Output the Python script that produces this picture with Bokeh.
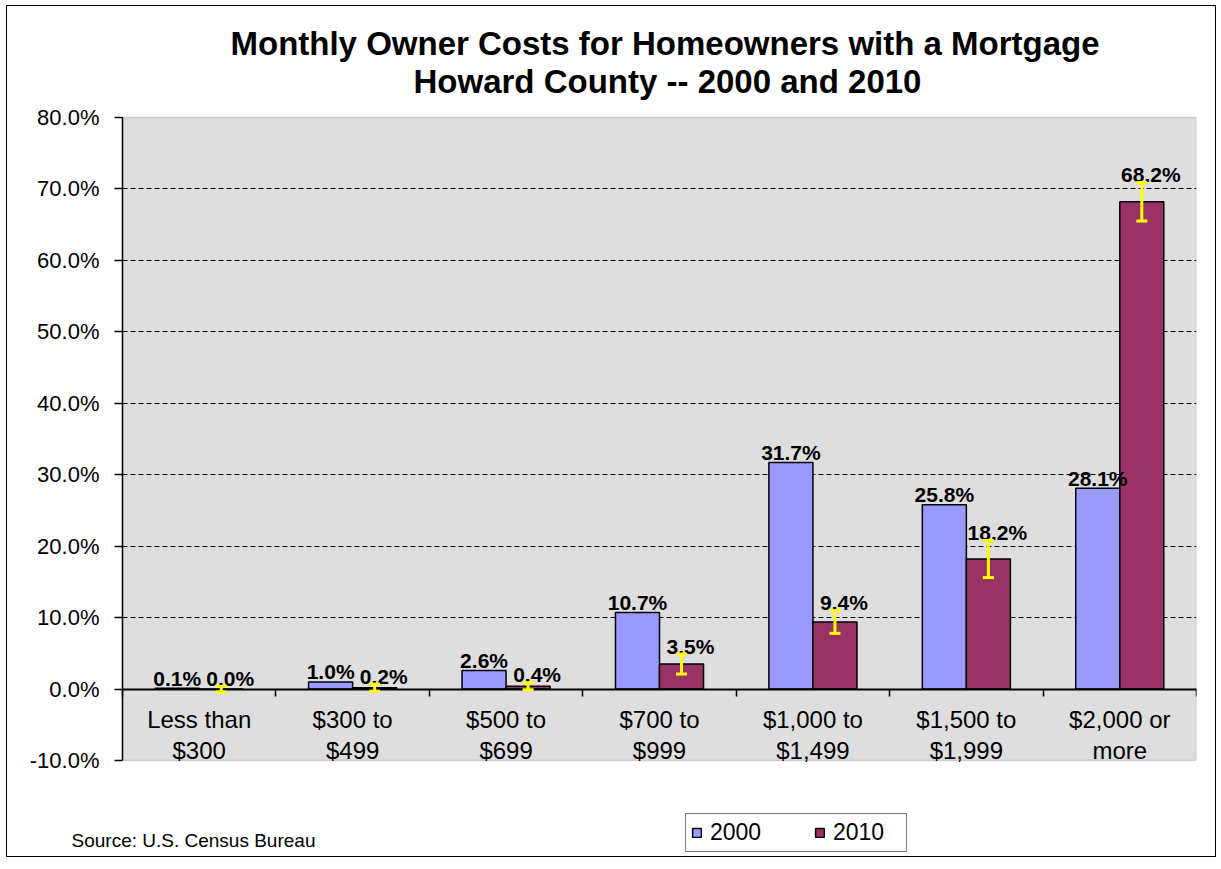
import numpy as np
from bokeh.plotting import figure
from bokeh.models import (ColumnDataSource, Range1d, FixedTicker, PrintfTickFormatter,
                          Whisker, TeeHead, Legend, LegendItem, Label, Title, BoxAnnotation)
from bokeh.core.properties import value
from bokeh.embed import file_html
from bokeh.resources import INLINE

# ---- data ----
categories = ["Less than\n$300", "$300 to\n$499", "$500 to\n$699", "$700 to\n$999",
              "$1,000 to\n$1,499", "$1,500 to\n$1,999", "$2,000 or\nmore"]
pct_2000 = [0.1, 1.0, 2.6, 10.7, 31.7, 25.8, 28.1]
pct_2010 = [0.0, 0.2, 0.4, 3.5, 9.4, 18.2, 68.2]
moe_2010 = [0.4, 0.5, 0.5, 1.4, 1.6, 2.6, 2.7]
y_ticks = [-10, 0, 10, 20, 30, 40, 50, 60, 70, 80]
series_names = ["2000", "2010"]
title_lines = ["Monthly Owner Costs for Homeowners with a Mortgage",
               "Howard County -- 2000 and 2010"]
source_note = "Source:  U.S. Census Bureau"

FONT = "Liberation Sans"
C2000 = "#9999FF"
C2010 = "#993366"

n = len(categories)
y_min, y_max = y_ticks[0], y_ticks[-1]
centers = np.arange(n) + 0.5
bw = 0.287
x2000 = centers - bw / 2
x2010 = centers + bw / 2
upper = np.array(pct_2010) + np.array(moe_2010)
lower = np.array(pct_2010) - np.array(moe_2010)

src2000 = ColumnDataSource(dict(x=x2000, top=pct_2000,
                                lab=[f"{v:.1f}%" for v in pct_2000]))
src2010 = ColumnDataSource(dict(x=x2010, top=pct_2010, upper=upper, lower=lower,
                                lab=[f"{v:.1f}%" for v in pct_2010]))

# layout geometry (pixels)
W, H = 1210, 852
B_LEFT, B_RIGHT, B_TOP, B_BOTTOM = 4, 21, 96, 4
plot_px_left = 111          # frame left -> value axis
plot_px_top = 15            # frame top -> top of plot area
plot_px_bottom = 94         # frame bottom -> lowest gridline
frame_w = W - B_LEFT - B_RIGHT
frame_h = H - B_TOP - B_BOTTOM
px_per_x = (frame_w - plot_px_left) / n
px_per_y = (frame_h - plot_px_bottom - plot_px_top) / (y_max - y_min)
x_lo = -plot_px_left / px_per_x
y_lo = y_min - plot_px_bottom / px_per_y
y_hi = y_max + plot_px_top / px_per_y

p = figure(width=W, height=H, x_range=Range1d(x_lo, n), y_range=Range1d(y_lo, y_hi),
           output_backend="svg", toolbar_location=None, title=None,
           min_border_left=B_LEFT, min_border_right=B_RIGHT, min_border_top=B_TOP,
           min_border_bottom=B_BOTTOM)
p.styles = {"border": "1px solid black", "margin": "5px 0px 0px 6px"}
p.background_fill_color = "white"
p.border_fill_color = "white"
p.outline_line_color = None

# plot-area background
p.add_layout(BoxAnnotation(left=0, right=n, bottom=y_min, top=y_max,
                           fill_color="#dedede", fill_alpha=1,
                           line_color="#808080", line_width=1.5, level="image"))

# titles (added bottom line first), left aligned with offsets to centre them over the plot area
t2 = Title(text=title_lines[1], text_font=FONT, text_font_size="33px",
           text_font_style="bold", text_color="black", align="left", offset=402, standoff=5)
t1 = Title(text=title_lines[0], text_font=FONT, text_font_size="33px",
           text_font_style="bold", text_color="black", align="left", offset=219, standoff=-7)
p.add_layout(t2, "above")
p.add_layout(t1, "above")

# grid (inner lines only, limited to the plot area)
grid_ticks = y_ticks[1:-1]
p.xgrid.visible = False
g = p.ygrid[0]
if "cross_bounds" in g.properties():
    g.ticker = FixedTicker(ticks=grid_ticks)
    g.cross_bounds = (0, n)
    g.grid_line_color = "black"
    g.grid_line_dash = "5 3"
    g.grid_line_width = 1
else:
    g.visible = False
    gr = p.segment(x0=[0] * len(grid_ticks), x1=[n] * len(grid_ticks), y0=grid_ticks,
                   y1=grid_ticks, line_color="black", line_dash="5 3", line_width=1)
    gr.level = "underlay"

# y axis, fixed at x = 0
p.yaxis.fixed_location = 0
p.yaxis.bounds = (y_min, y_max)
p.yaxis.ticker = FixedTicker(ticks=y_ticks)
p.yaxis.formatter = PrintfTickFormatter(format="%.1f%%")
p.yaxis.axis_line_color = "black"
p.yaxis.axis_line_width = 1.5
p.yaxis.major_tick_line_color = "black"
p.yaxis.major_tick_line_width = 1.5
p.yaxis.major_tick_in = 0
p.yaxis.major_tick_out = 8
p.yaxis.minor_tick_line_color = None
p.yaxis.major_label_text_font = FONT
p.yaxis.major_label_text_font_size = "22px"
p.yaxis.major_label_text_color = "black"
p.yaxis.major_label_standoff = 15

# x axis at zero
p.xaxis.fixed_location = 0
p.xaxis.bounds = (0, n)
p.xaxis.ticker = FixedTicker(ticks=list(centers), minor_ticks=list(range(n + 1)))
p.xaxis.major_label_overrides = {float(c): lab for c, lab in zip(centers, categories)}
p.xaxis.axis_line_color = "black"
p.xaxis.axis_line_width = 2
p.xaxis.major_tick_line_color = None
p.xaxis.major_tick_in = 0
p.xaxis.major_tick_out = 0
p.xaxis.minor_tick_line_color = "black"
p.xaxis.minor_tick_line_width = 1.5
p.xaxis.minor_tick_in = 0
p.xaxis.minor_tick_out = 7
p.xaxis.major_label_text_font = FONT
p.xaxis.major_label_text_font_size = "24px"
p.xaxis.major_label_text_color = "black"
p.xaxis.major_label_text_line_height = 1.15
p.xaxis.major_label_standoff = 10

# bars
r1 = p.vbar(x="x", top="top", bottom=0, width=bw, source=src2000,
            fill_color=C2000, line_color="black", line_width=1.5)
r2 = p.vbar(x="x", top="top", bottom=0, width=bw, source=src2010,
            fill_color=C2010, line_color="black", line_width=1.5)

# error bars
whisk = Whisker(source=src2010, base="x", upper="upper", lower="lower", dimension="height",
                line_color="#FFFF00", line_width=3, level="annotation",
                upper_head=TeeHead(size=11, line_color="#FFFF00", line_width=3),
                lower_head=TeeHead(size=11, line_color="#FFFF00", line_width=3))
p.add_layout(whisk)

# value labels
p.text(x="x", y="top", text="lab", source=src2000, text_align="center",
       text_baseline="alphabetic", y_offset=-10, text_font=value(FONT),
       text_font_style="bold", text_font_size="21px", text_color="black")
src_lab10 = ColumnDataSource(dict(x=x2010, y=upper, lab=src2010.data["lab"]))
p.text(x="x", y="y", text="lab", source=src_lab10, text_align="center",
       text_baseline="alphabetic", y_offset=-8, x_offset=9, text_font=value(FONT),
       text_font_style="bold", text_font_size="21px", text_color="black")

# legend
legend = Legend(items=[LegendItem(label=series_names[0], renderers=[r1]),
                       LegendItem(label=series_names[1], renderers=[r2])],
                orientation="horizontal", location=(674, 2),
                glyph_width=11, glyph_height=11, label_standoff=8, label_width=68,
                spacing=36, padding=5, margin=0,
                border_line_color="black", border_line_width=1.5,
                background_fill_color="white", background_fill_alpha=1,
                label_text_font=FONT, label_text_font_size="23px",
                label_text_color="black")
p.add_layout(legend)

# source note
p.add_layout(Label(x=60, y=14, x_units="screen", y_units="screen", text=source_note,
                   text_font=FONT, text_font_size="19px", text_color="black",
                   text_baseline="alphabetic"))

open("out.html", "w").write(file_html(p, INLINE))
